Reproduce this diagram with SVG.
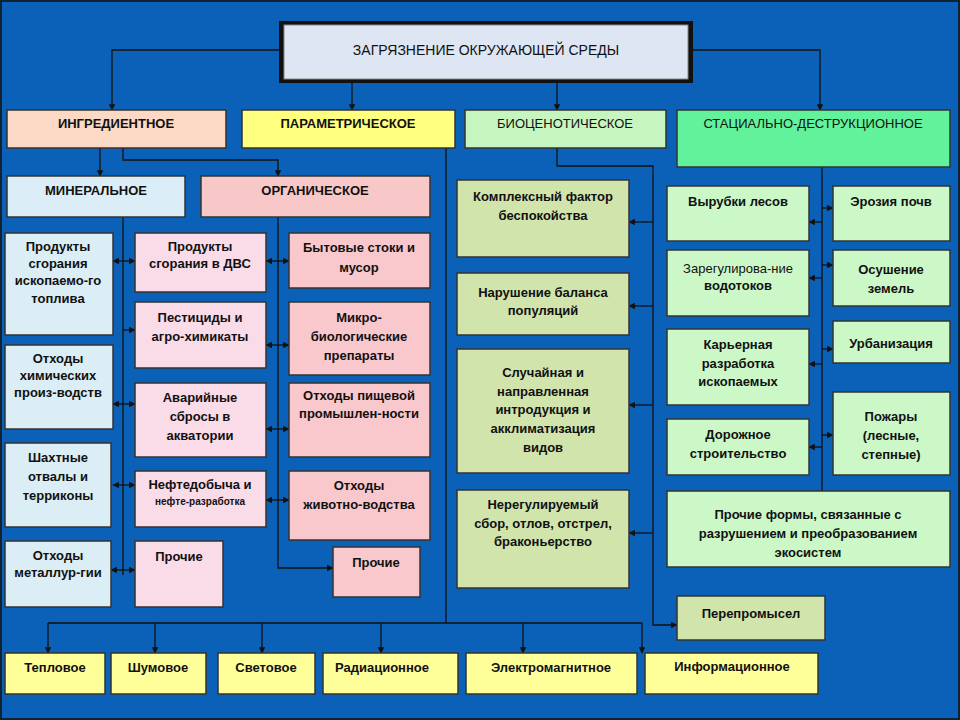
<svg xmlns="http://www.w3.org/2000/svg" width="960" height="720" viewBox="0 0 960 720">
<defs>
<marker id="a" viewBox="0 0 10 10" refX="9" refY="5" markerWidth="5" markerHeight="5" orient="auto-start-reverse"><path d="M0,0L10,5L0,10z" fill="#111"/></marker>
<style>
.b{stroke:#333;stroke-width:1.5}
text{font-family:"Liberation Sans",Arial,sans-serif;font-weight:bold;font-size:13px;fill:#111;text-anchor:middle}
.c line,.c path{stroke:#111;stroke-width:1.3;fill:none}
.m{marker-end:url(#a)}
.d{marker-end:url(#a);marker-start:url(#a)}
.lb{fill:#dbeef6}.pk{fill:#fadbe8}.og{fill:#f8c8cc}.bg{fill:#d0e4ac}.lg{fill:#ccf8c8}.yl{fill:#ffff99}
</style>
</defs>
<rect width="960" height="720" fill="#0a61b7"/>
<rect x="1" y="1" width="958" height="718" fill="none" stroke="#123" stroke-width="2"/>
<g class="c">
<path class="m" d="M280,50H112V110"/>
<path class="m" d="M692,50H820V110"/>
<path class="m" d="M352,82V110"/>
<path class="m" d="M557,82V110"/>
<path class="m" d="M100,148V176"/>
<path class="m" d="M123,148V160H278V176"/>
<path d="M123,217V575"/>
<path class="m" d="M278,217V568H333"/>
<line class="d" x1="113" y1="261" x2="135" y2="261"/>
<line class="m" x1="123" y1="330" x2="135" y2="330"/>
<line class="d" x1="113" y1="404" x2="135" y2="404"/>
<line class="d" x1="113" y1="485" x2="135" y2="485"/>
<line class="d" x1="111" y1="570" x2="135" y2="570"/>
<line class="d" x1="266" y1="261" x2="289" y2="261"/>
<line class="d" x1="266" y1="345" x2="289" y2="345"/>
<line class="d" x1="266" y1="429" x2="289" y2="429"/>
<line class="d" x1="266" y1="500" x2="289" y2="500"/>
<path class="m" d="M557,148V166H653V625H677"/>
<line class="m" x1="653" y1="222" x2="629" y2="222"/>
<line class="m" x1="653" y1="306" x2="629" y2="306"/>
<line class="m" x1="653" y1="405" x2="629" y2="405"/>
<line class="m" x1="653" y1="533" x2="629" y2="533"/>
<path class="m" d="M822,167V497"/>
<line class="m" x1="822" y1="222" x2="809" y2="222"/>
<line class="m" x1="822" y1="278" x2="809" y2="278"/>
<line class="m" x1="822" y1="364" x2="809" y2="364"/>
<line class="m" x1="822" y1="447" x2="809" y2="447"/>
<line class="m" x1="822" y1="208" x2="833" y2="208"/>
<line class="m" x1="822" y1="265" x2="833" y2="265"/>
<line class="m" x1="822" y1="349" x2="833" y2="349"/>
<line class="m" x1="822" y1="435" x2="833" y2="435"/>
<path d="M446,148V623M48,623H642"/>
<line class="m" x1="48" y1="623" x2="48" y2="653"/>
<line class="m" x1="155" y1="623" x2="155" y2="653"/>
<line class="m" x1="262" y1="623" x2="262" y2="653"/>
<line class="m" x1="381" y1="623" x2="381" y2="653"/>
<line class="m" x1="523" y1="623" x2="523" y2="653"/>
<line class="m" x1="642" y1="623" x2="642" y2="653"/>
</g>
<g id="root"><rect x="279" y="21" width="414" height="62" fill="#111"/><rect x="284" y="25" width="404" height="54" fill="#dde6f2" stroke="#888"/><text x="486" y="55" style="font-weight:normal;font-size:14px">ЗАГРЯЗНЕНИЕ ОКРУЖАЮЩЕЙ СРЕДЫ</text></g>
<g id="ingr"><rect class="b" x="7" y="110" width="219" height="38" fill="#fcd9c4"/><text x="116" y="128">ИНГРЕДИЕНТНОЕ</text></g>
<g id="param"><rect class="b" x="242" y="110" width="213" height="38" fill="#ffff80"/><text x="348" y="128">ПАРАМЕТРИЧЕСКОЕ</text></g>
<g id="bio"><rect class="b" x="465" y="110" width="201" height="38" fill="#c6f5c0"/><text x="565" y="128" style="font-weight:normal">БИОЦЕНОТИЧЕСКОЕ</text></g>
<g id="stat"><rect class="b" x="677" y="110" width="273" height="57" fill="#62f29c"/><text x="813" y="128" style="font-weight:normal">СТАЦИАЛЬНО-ДЕСТРУКЦИОННОЕ</text></g>
<g id="min"><rect class="b" x="7" y="176" width="178" height="41" fill="#dbeef8"/><text x="96" y="195">МИНЕРАЛЬНОЕ</text></g>
<g id="org"><rect class="b" x="201" y="176" width="229" height="41" fill="#f8c8c8"/><text x="315" y="195">ОРГАНИЧЕСКОЕ</text></g>
<g id="a1"><rect class="b lb" x="5" y="233" width="108" height="102"/><text x="58" y="251">Продукты</text><text x="58" y="268">сгорания</text><text x="58" y="285">ископаемо-го</text><text x="58" y="303">топлива</text></g>
<g id="a2"><rect class="b lb" x="5" y="345" width="108" height="84"/><text x="58" y="363">Отходы</text><text x="58" y="380">химических</text><text x="58" y="397">произ-водств</text></g>
<g id="a3"><rect class="b lb" x="5" y="443" width="106" height="84"/><text x="58" y="462">Шахтные</text><text x="58" y="481">отвалы и</text><text x="58" y="500">терриконы</text></g>
<g id="a4"><rect class="b lb" x="5" y="541" width="106" height="66"/><text x="58" y="560">Отходы</text><text x="58" y="577">металлур-гии</text></g>
<g id="b1"><rect class="b pk" x="135" y="233" width="131" height="59"/><text x="200" y="251">Продукты</text><text x="200" y="268">сгорания в ДВС</text></g>
<g id="b2"><rect class="b pk" x="135" y="302" width="131" height="66"/><text x="200" y="322">Пестициды и</text><text x="200" y="341">агро-химикаты</text></g>
<g id="b3"><rect class="b pk" x="135" y="383" width="131" height="74"/><text x="200" y="402">Аварийные</text><text x="200" y="421">сбросы в</text><text x="200" y="440">акватории</text></g>
<g id="b4"><rect class="b pk" x="135" y="471" width="131" height="56"/><text x="200" y="489">Нефтедобыча и</text><text x="200" y="505" style="font-size:10px">нефте-разработка</text></g>
<g id="b5"><rect class="b pk" x="135" y="541" width="88" height="66"/><text x="179" y="561">Прочие</text></g>
<g id="c1"><rect class="b og" x="289" y="233" width="141" height="55"/><text x="359" y="252">Бытовые стоки и</text><text x="359" y="272">мусор</text></g>
<g id="c2"><rect class="b og" x="289" y="302" width="141" height="73"/><text x="359" y="322">Микро-</text><text x="359" y="341">биологические</text><text x="359" y="360">препараты</text></g>
<g id="c3"><rect class="b og" x="289" y="383" width="141" height="74"/><text x="359" y="400">Отходы пищевой</text><text x="359" y="418">промышлен-ности</text></g>
<g id="c4"><rect class="b og" x="289" y="471" width="141" height="69"/><text x="359" y="490">Отходы</text><text x="359" y="509">животно-водства</text></g>
<g id="c5"><rect class="b og" x="333" y="547" width="87" height="50"/><text x="376" y="567">Прочие</text></g>
<g id="d1"><rect class="b bg" x="457" y="180" width="172" height="77"/><text x="543" y="201">Комплексный фактор</text><text x="543" y="220">беспокойства</text></g>
<g id="d2"><rect class="b bg" x="457" y="273" width="172" height="62"/><text x="543" y="297">Нарушение баланса</text><text x="543" y="315">популяций</text></g>
<g id="d3"><rect class="b bg" x="457" y="349" width="172" height="124"/><text x="543" y="377">Случайная и</text><text x="543" y="396">направленная</text><text x="543" y="414">интродукция и</text><text x="543" y="433">акклиматизация</text><text x="543" y="452">видов</text></g>
<g id="d4"><rect class="b bg" x="457" y="490" width="172" height="98"/><text x="543" y="509">Нерегулируемый</text><text x="543" y="528">сбор, отлов, отстрел,</text><text x="543" y="546">браконьерство</text></g>
<g id="d5"><rect class="b bg" x="677" y="596" width="148" height="44"/><text x="751" y="618">Перепромысел</text></g>
<g id="e1"><rect class="b lg" x="667" y="186" width="142" height="55"/><text x="738" y="206">Вырубки лесов</text></g>
<g id="e2"><rect class="b lg" x="667" y="250" width="142" height="66"/><text x="738" y="273" style="font-weight:normal">Зарегулирова-ние</text><text x="738" y="290">водотоков</text></g>
<g id="e3"><rect class="b lg" x="667" y="329" width="142" height="76"/><text x="738" y="349">Карьерная</text><text x="738" y="368">разработка</text><text x="738" y="386">ископаемых</text></g>
<g id="e4"><rect class="b lg" x="667" y="419" width="142" height="56"/><text x="738" y="339" dy="100">Дорожное</text><text x="738" y="468" dy="-10">строительство</text></g>
<g id="f1"><rect class="b lg" x="833" y="186" width="117" height="55"/><text x="891" y="206">Эрозия почв</text></g>
<g id="f2"><rect class="b lg" x="833" y="250" width="117" height="56"/><text x="891" y="274">Осушение</text><text x="891" y="293">земель</text></g>
<g id="f3"><rect class="b lg" x="833" y="321" width="117" height="42"/><text x="891" y="348">Урбанизация</text></g>
<g id="f4"><rect class="b lg" x="833" y="392" width="117" height="83"/><text x="891" y="421">Пожары</text><text x="891" y="440">(лесные,</text><text x="891" y="459">степные)</text></g>
<g id="g1"><rect class="b lg" x="667" y="491" width="283" height="76"/><text x="808" y="519">Прочие формы, связанные с</text><text x="808" y="538">разрушением и преобразованием</text><text x="808" y="557">экосистем</text></g>
<g id="p1"><rect class="b yl" x="5" y="653" width="100" height="41"/><text x="55" y="672">Тепловое</text></g>
<g id="p2"><rect class="b yl" x="111" y="653" width="95" height="41"/><text x="158" y="672">Шумовое</text></g>
<g id="p3"><rect class="b yl" x="218" y="653" width="97" height="41"/><text x="266" y="672">Световое</text></g>
<g id="p4"><rect class="b yl" x="323" y="653" width="135" height="41"/><text x="382" y="672">Радиационное</text></g>
<g id="p5"><rect class="b yl" x="466" y="653" width="171" height="41"/><text x="551" y="672">Электромагнитное</text></g>
<g id="p6"><rect class="b yl" x="645" y="653" width="173" height="41"/><text x="732" y="671">Информационное</text></g>
</svg>
